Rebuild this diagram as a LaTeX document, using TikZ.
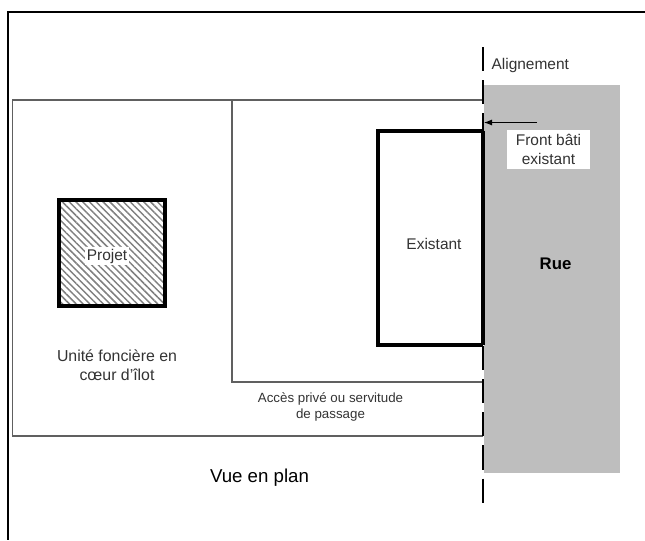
\documentclass[tikz,border=0pt]{standalone}
\usepackage{fontspec}
\setmainfont{Liberation Sans}
\usetikzlibrary{patterns.meta,arrows.meta}
\definecolor{ruegray}{HTML}{BEBEBE}
\definecolor{thingray}{HTML}{606060}
\definecolor{textgray}{HTML}{333333}
\tikzset{
    plotline/.style={draw=thingray, line width=0.9pt},
    thickline/.style={draw=black, line width=3pt},
    label/.style={text=textgray, font=\fontsize{11.6}{14.5}\selectfont, align=center, inner sep=1pt},
    smalllabel/.style={label, font=\fontsize{10}{12}\selectfont}
}
\begin{document}
\begin{tikzpicture}[x=0.75pt, y=-0.75pt]
    \useasboundingbox (0,0) rectangle (645,540);

    % la rue derriere tout le reste
    \fill[ruegray] (484,85) rectangle (620,473);

    % cadre de la figure
    \draw[black, line width=1.6pt] (645,12) -- (8,12) -- (8,540);

    % parcelle et acces
    \draw[plotline] (483,100) -- (12.5,100) -- (12.5,436) -- (483,436);
    \draw[plotline] (232,100) -- (232,382) -- (483,382);

    % batiments
    \draw[thickline] (483,130.5) -- (377.5,130.5) -- (377.5,344.5) -- (483,344.5);
    \draw[thickline, pattern={Lines[angle=-45, distance=3.6pt, line width=1.1pt]}, pattern color=gray]
        (58.5,199.5) rectangle (164.5,305.5);

    % alignement, du haut en bas
    \coordinate (alignHaut) at (483,47);
    \coordinate (alignBas) at (483,503);
    \draw[black, line width=1.5pt, dash pattern=on 18.15pt off 6.75pt] (alignHaut) -- (alignBas);
    \draw[black, line width=3pt] (483,130.5) -- (483,344.5);

    % textes
    \node[label, anchor=west] (alignement) at (490,65) {Alignement};
    \node[label, fill=white, minimum width=62pt, minimum height=29pt, inner sep=0pt] (front) at (548.5,149.5) {Front bâti\\existant};
    \node[label] (existant) at (434,244) {Existant};
    \node[label, text=black, font=\fontsize{12.6}{15}\selectfont\bfseries] (rue) at (555.5,264) {Rue};
    \node[label, fill=white] (projet) at (107,256) {Projet};
    \node[label, font=\fontsize{11.9}{14.5}\selectfont] (unite) at (117,365) {Unité foncière en\\cœur d'îlot};
    \node[smalllabel] (acces) at (330.5,407) {Accès privé ou servitude\\de passage};
    \node[label, text=black, font=\fontsize{14}{16}\selectfont] (vue) at (259.5,478) {Vue en plan};

    % fleche vers le front bati
    \coordinate (flecheDepart) at (537,122.5);
    \coordinate (flecheFin) at (484,122.5);
    \draw[-{Latex[length=6pt, width=4.5pt]}, black, line width=0.7pt] (flecheDepart) -- (flecheFin);
\end{tikzpicture}
\end{document}
